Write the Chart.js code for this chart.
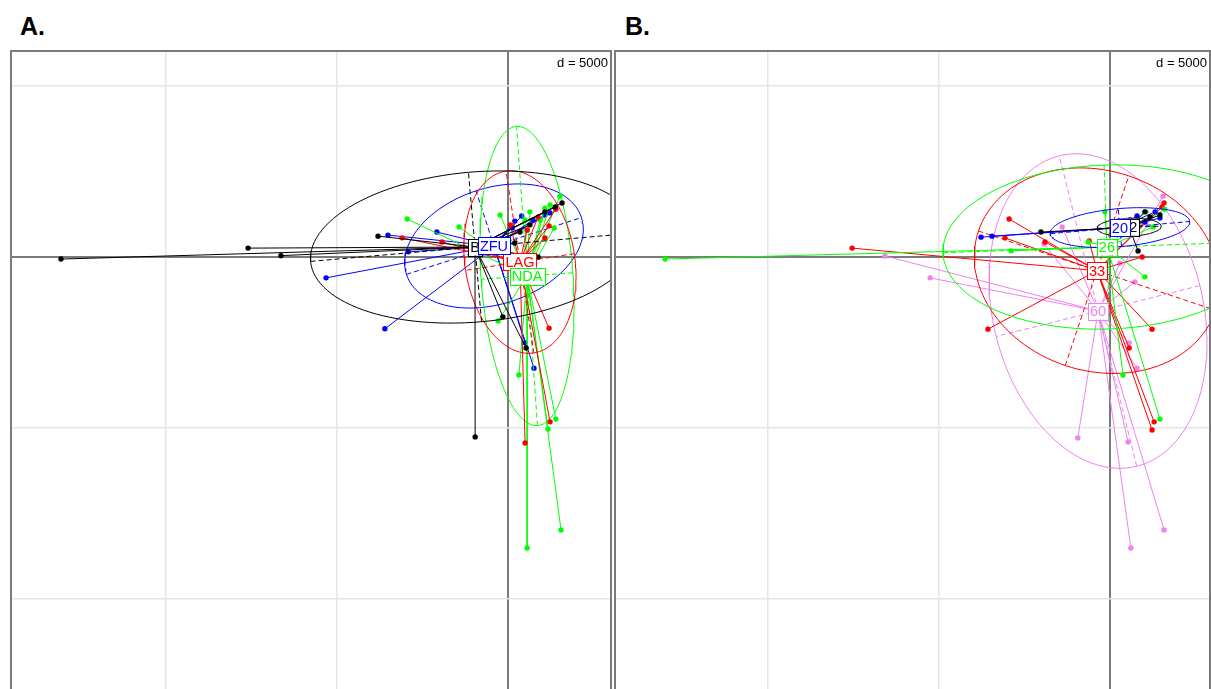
<!DOCTYPE html>
<html>
<head>
<meta charset="utf-8">
<script src="https://cdn.jsdelivr.net/npm/chart.js@4.4.0/dist/chart.umd.min.js"></script>
<style>
    body { margin: 0; background: #fff; width: 1211px; height: 689px; overflow: hidden; position: relative; font-family: "Liberation Sans", Arial, sans-serif; }
    .panel-title { position: absolute; top: 12px; font-weight: bold; font-size: 25px; line-height: 28px; color: #000; }
    .panel { position: absolute; top: 50px; height: 639px; }
</style>
</head>
<body>
<div class="panel-title" style="left:20px">A.</div>
<div class="panel-title" style="left:625px">B.</div>
<div class="panel" style="left:10px;width:602px"><canvas id="chartA"></canvas></div>
<div class="panel" style="left:614px;width:597px"><canvas id="chartB"></canvas></div>

<script>
// grid step (d) and tick positions, shared by both panels
const gridStep = 5000;
const xTicks = [-10000, -5000, 0];
const yTicks = [5000, 0, -5000, -10000];

// ---- Panel A: groups B, LAG, NDA, ZFU ----
const groupsA = ['B', 'LAG', 'NDA', 'ZFU'];
const centresA = [[-965, 292], [350, -146], [556, -556], [-410, 322]];
// ellipse: [semi-major, semi-minor, angle in degrees]
const ellipsesA = [[4825, 2193, 5], [2690, 1608, 98.7], [4386, 1345, 94], [2690, 1696, 18]];
const pointsA_B = [[-13070, -60], [-7600, 260], [-6640, 40], [-3800, 610], [1580, 1580], [-960, -5260],
    [-150, -1750], [530, -2660], [880, 0], [200, 410], [640, 940], [1080, 1320], [350, 730], [1380, 1460]];
const pointsA_LAG = [[-3100, 560], [1200, -2080], [1080, 560], [1200, 910], [1230, -4820], [500, -5440],
    [60, 940], [560, 790], [-1930, 440], [880, 1170], [1400, 1400]];
const pointsA_NDA = [[-2950, 1110], [-1430, 880], [-230, 1230], [1520, 1780], [1350, 850], [-290, -1870],
    [320, -3450], [1400, -4740], [1170, -5030], [1550, -7980], [560, -8510], [640, 1320], [1080, 1430],
    [940, 1080], [500, 1080], [1230, 1520]];
const pointsA_ZFU = [[-5320, -610], [-3600, -2100], [-3510, 640], [-2080, 730], [-2920, 150], [760, -3250],
    [500, -2510], [200, 1050], [120, 850], [730, 1080], [1080, 1230], [1230, 1290], [400, 1200]];

// ---- Panel B: groups 12, 20, 26, 33, 60 ----
const groupsB = ['12', '20', '26', '33', '60'];
const centresB = [[560, 870], [290, 860], [-90, 292], [-380, -400], [-350, -1580]];
const ellipsesB = [[936, 263, 2], [2047, 556, 5], [4795, 2398, 2], [3655, 2924, -18.5], [4678, 3070, 104]];
const pointsB_12 = [[-2020, 730], [820, 175], [1170, 1170], [1460, 1230], [1020, 1320]];
const pointsB_20 = [[-3770, 580], [-3450, 610], [790, 1200], [1020, 1020], [1320, 1320], [1460, 1140], [580, 1080]];
const pointsB_26 = [[-13010, -60], [-2890, 180], [-640, 440], [1050, 1320], [-150, 1320], [1020, -580],
    [380, -3450], [1460, -4740], [1260, 880], [1600, 1400]];
const pointsB_33 = [[-7540, 260], [-2950, 1110], [-3070, 560], [-1900, 440], [-610, 470], [-3570, -2110],
    [1230, -2110], [940, 0], [1580, 1580], [1520, 1460], [560, -2660], [1290, -4820], [1230, -5060]];
const pointsB_60 = [[-6580, 30], [-5260, -610], [-1400, 880], [-1930, 380], [1550, 1780], [730, -730],
    [290, -180], [560, -2510], [790, -3250], [-940, -5290], [530, -5410], [1580, -7980], [610, -8510]];

const coloursA = ['#000000', '#ff0000', '#00ff00', '#0000ff'];
const coloursB = ['#000000', '#0000ff', '#00ff00', '#ff0000', '#ee82ee'];

document.addEventListener('DOMContentLoaded', function () {
    createChart('chartA', panelConfig(groupsA, centresA, ellipsesA,
        [pointsA_B, pointsA_LAG, pointsA_NDA, pointsA_ZFU], coloursA, -14561, 3041));
    createChart('chartB', panelConfig(groupsB, centresB, ellipsesB,
        [pointsB_12, pointsB_20, pointsB_26, pointsB_33, pointsB_60], coloursB, -14503, 2953));
});

function ellipseOutline(c, e) {
    const out = [];
    const th = e[2] * Math.PI / 180;
    for (let i = 0; i <= 120; i++) {
        const t = i / 120 * 2 * Math.PI;
        const u = e[0] * Math.cos(t), v = e[1] * Math.sin(t);
        out.push({ x: c[0] + u * Math.cos(th) - v * Math.sin(th), y: c[1] + u * Math.sin(th) + v * Math.cos(th) });
    }
    return out;
}

function ellipseAxes(c, e) {
    const th = e[2] * Math.PI / 180;
    const ca = Math.cos(th), sa = Math.sin(th);
    return [
        { x: c[0] - e[0] * ca, y: c[1] - e[0] * sa }, { x: c[0] + e[0] * ca, y: c[1] + e[0] * sa },
        { x: NaN, y: NaN },
        { x: c[0] + e[1] * sa, y: c[1] - e[1] * ca }, { x: c[0] - e[1] * sa, y: c[1] + e[1] * ca }
    ];
}

function starLines(c, pts) {
    const out = [];
    pts.forEach(p => {
        out.push({ x: c[0], y: c[1] }, { x: p[0], y: p[1] }, { x: NaN, y: NaN });
    });
    return out;
}

function panelConfig(groups, centres, ellipses, points, colours, xMin, xMax) {
    const datasets = [];
    groups.forEach((g, i) => {
        const col = colours[i];
        datasets.push({ data: ellipseOutline(centres[i], ellipses[i]), showLine: true, borderColor: col,
            borderWidth: 1, pointRadius: 0, fill: false });
        datasets.push({ data: ellipseAxes(centres[i], ellipses[i]), showLine: true, borderColor: col,
            borderWidth: 1, borderDash: [5, 3], pointRadius: 0, fill: false });
        datasets.push({ data: starLines(centres[i], points[i]), showLine: true, borderColor: col,
            borderWidth: 1, pointRadius: 0, fill: false });
        datasets.push({ data: points[i].map(p => ({ x: p[0], y: p[1] })), showLine: false,
            pointRadius: 2.7, pointBorderWidth: 0, pointBackgroundColor: col });
    });

    const gridOpts = {
        color: c => c.tick && c.tick.value === 0 ? '#7a7a7a' : '#e6e6e6',
        lineWidth: c => c.tick && c.tick.value === 0 ? 2 : 1.5,
        drawTicks: false
    };

    return {
        type: 'scatter',
        data: { datasets: datasets },
        options: {
            responsive: true,
            maintainAspectRatio: false,
            animation: false,
            events: [],
            layout: { padding: 0, autoPadding: false },
            plugins: {
                legend: { display: false },
                tooltip: { enabled: false },
                sclass: { labels: groups, centres: centres, colours: colours }
            },
            scales: {
                x: {
                    type: 'linear', min: xMin, max: xMax,
                    afterBuildTicks: s => { s.ticks = xTicks.map(v => ({ value: v })); },
                    afterFit: s => { s.height = 0; },
                    ticks: { display: false },
                    grid: gridOpts,
                    border: { display: false }
                },
                y: {
                    type: 'linear', min: -12632, max: 6053,
                    afterBuildTicks: s => { s.ticks = yTicks.map(v => ({ value: v })); },
                    afterFit: s => { s.width = 0; },
                    ticks: { display: false },
                    grid: gridOpts,
                    border: { display: false }
                }
            }
        },
        plugins: [sclassPlugin]
    };
}

// group labels, frame and the "d = ..." note
const sclassPlugin = {
    id: 'sclass',
    afterDatasetsDraw(chart, args, opts) {
        const ctx = chart.ctx;
        const xs = chart.scales.x, ys = chart.scales.y;
        ctx.save();
        ctx.font = '14.5px "Liberation Sans", Arial, sans-serif';
        ctx.textAlign = 'center';
        ctx.textBaseline = 'middle';
        opts.labels.forEach((lab, i) => {
            const px = xs.getPixelForValue(opts.centres[i][0]);
            const py = ys.getPixelForValue(opts.centres[i][1]);
            const w = ctx.measureText(lab).width + 4, h = 17;
            ctx.fillStyle = '#fff';
            ctx.fillRect(px - w / 2, py - h / 2, w, h);
            ctx.strokeStyle = opts.colours[i];
            ctx.lineWidth = 1;
            ctx.strokeRect(Math.round(px - w / 2) + 0.5, Math.round(py - h / 2) + 0.5, Math.round(w), h);
            ctx.fillStyle = opts.colours[i];
            ctx.fillText(lab, px, py + 1);
        });
        ctx.restore();
    },
    afterDraw(chart) {
        const ctx = chart.ctx;
        const w = chart.width, h = chart.height;
        ctx.save();
        ctx.strokeStyle = '#7a7a7a';
        ctx.lineWidth = 2;
        ctx.strokeRect(1, 1, w - 2, h + 4);
        ctx.font = '13px "Liberation Sans", Arial, sans-serif';
        ctx.textAlign = 'right';
        ctx.textBaseline = 'alphabetic';
        ctx.fillStyle = '#000';
        ctx.fillText('d = ' + gridStep, w - 4, 17);
        ctx.restore();
    }
};

function createChart(id, config) {
    const ctx = document.getElementById(id);
    if (!ctx) {
        console.error(`Canvas element with id '${id}' not found`);
        return;
    }
    ctx.chart = new Chart(ctx, config);
}
</script>
</body>
</html>
